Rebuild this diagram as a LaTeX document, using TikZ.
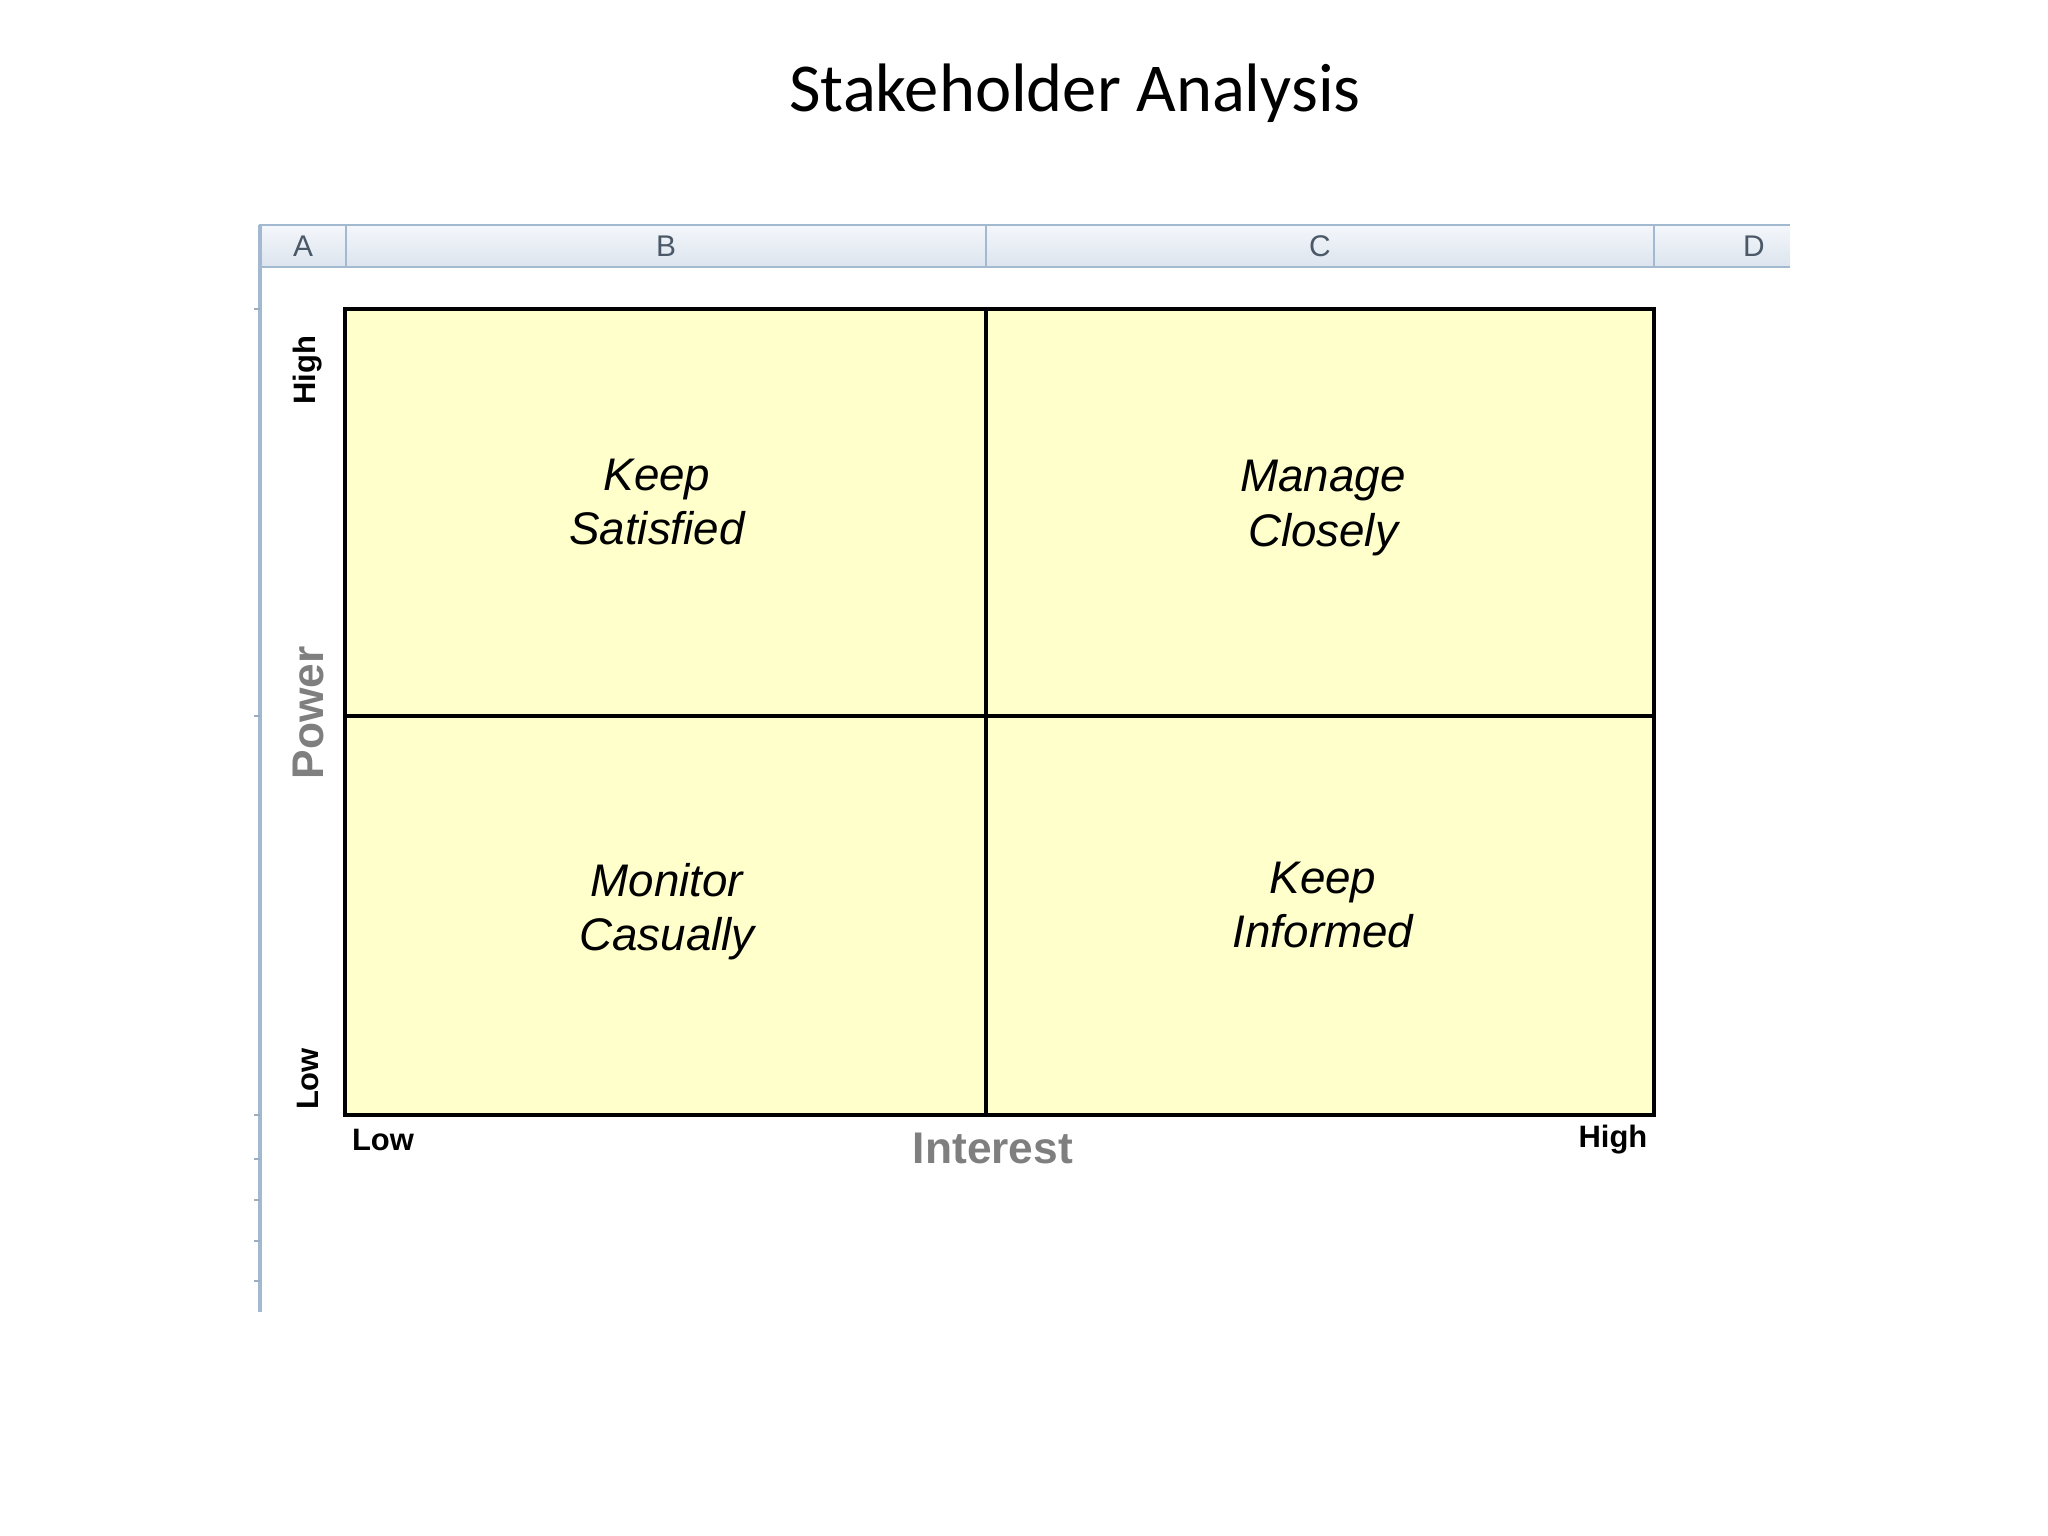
\documentclass[tikz,border=0pt]{standalone}
\usepackage{fontspec}
\setmainfont{Liberation Sans}
\newfontfamily\titlefont{Carlito}
\usetikzlibrary{positioning}
\definecolor{cellyellow}{HTML}{FFFFCC}
\definecolor{sheetblue}{HTML}{A3B9D0}
\definecolor{headtop}{HTML}{F4F7FB}
\definecolor{headbot}{HTML}{DCE4EE}
\definecolor{axisgray}{HTML}{7F7F7F}
\definecolor{letgray}{HTML}{4A5868}
\tikzset{
	x=0.01cm, y=-0.01cm, % one unit is one pixel of the slide
	colhead/.style={font=\fontsize{8.5}{10}\selectfont, text=letgray, inner sep=0pt},
	quadtext/.style={font=\fontsize{13}{15.4}\selectfont\itshape, align=center, inner sep=0pt},
	ticklabel/.style={font=\fontsize{8.8}{10}\selectfont\bfseries, inner sep=0pt},
	axislabel/.style={font=\fontsize{12.6}{14}\selectfont\bfseries, text=axisgray, inner sep=0pt},
}

\begin{document}
\begin{tikzpicture}
	\useasboundingbox[fill=white] (0,0) rectangle (2048,1536);
	%Title
	\node[font=\fontsize{19.5}{22}\selectfont\titlefont] (title) at (1075,93) {Stakeholder Analysis};

	%Sheet frame
	\shade[top color=headtop, bottom color=headbot] (259,225) rectangle (1790,267);
	\draw[sheetblue, line width=0.8pt] (259,225) -- (1790,225);
	\draw[sheetblue, line width=0.8pt] (259,267) -- (1790,267);
	\foreach \sx in {346,986,1654}
		\draw[sheetblue, line width=0.6pt] (\sx,226) -- (\sx,266);
	\draw[sheetblue, line width=1.2pt] (260,225) -- (260,1312);
	\foreach \ty in {309,716,1115,1159,1200,1241,1281}
		\draw[sheetblue!80!gray, line width=0.6pt] (254,\ty) -- (260,\ty);
	\node[colhead] (colA) at (303,246) {A};
	\node[colhead] (colB) at (666,246) {B};
	\node[colhead] (colC) at (1320,246) {C};
	\node[colhead] (colD) at (1754,246) {D};

	%Grid
	\coordinate (nw) at (345,309);
	\coordinate (se) at (1654,1115);
	\coordinate (top) at (986,309);
	\coordinate (bot) at (986,1115);
	\coordinate (lft) at (345,716);
	\coordinate (rgt) at (1654,716);
	\filldraw[fill=cellyellow, draw=black, line width=1.2pt] (nw) rectangle (se);
	\draw[line width=1.1pt] (top) -- (bot);
	\draw[line width=1.1pt] (lft) -- (rgt);

	%Quadrants
	\node[quadtext] (satisfied) at (657,502) {Keep\\Satisfied};
	\node[quadtext] (closely) at (1323,508) {Manage\\Closely};
	\node[quadtext] (casually) at (667,912) {Monitor\\Casually};
	\node[quadtext] (informed) at (1323,905) {Keep\\Informed};

	%Axes
	\node[ticklabel, rotate=90] (powhigh) at (308,370) {High};
	\node[ticklabel, rotate=90] (powlow) at (308,1079) {Low};
	\node[axislabel, rotate=90] (power) at (308,713) {Power};
	\node[ticklabel] (intlow) at (383,1140) {Low};
	\node[ticklabel] (inthigh) at (1613,1140) {High};
	\node[axislabel] (interest) at (993,1148) {Interest};
\end{tikzpicture}
\end{document}
